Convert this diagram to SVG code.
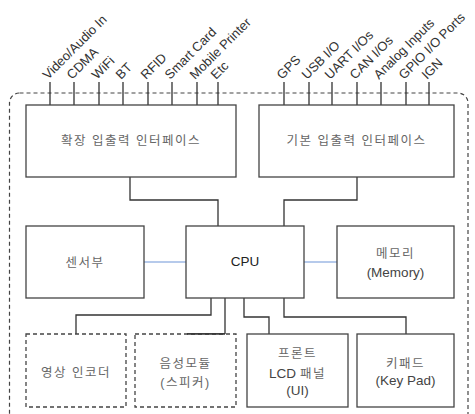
<svg xmlns="http://www.w3.org/2000/svg" width="475" height="414" viewBox="0 0 475 414">
<style>
.box{fill:#fff;stroke:#444;stroke-width:1.3}
.dbox{fill:#fff;stroke:#444;stroke-width:1.3;stroke-dasharray:4 3}
.ln{fill:none;stroke:#333;stroke-width:1.3}
.bl{fill:none;stroke:#6f95d8;stroke-width:1.2}
.lbl{font-family:"Liberation Sans",Arial,sans-serif;font-size:13px;fill:#333}
.kt{font-family:"Liberation Sans","Noto Sans CJK KR",sans-serif;font-size:12.5px;fill:#666;text-anchor:middle;letter-spacing:1.5px}
.et{font-family:"Liberation Sans","Noto Sans CJK KR",sans-serif;font-size:13.5px;fill:#444;text-anchor:middle}
</style>
<rect x="9.5" y="93" width="458.5" height="340" rx="10" fill="none" stroke="#444" stroke-width="1.2" stroke-dasharray="4 3"/>
<g id="connectors">
<path class="ln" d="M50,82V105M74,82V105M99,82V105M123,82V105M148,82V105M172,82V105M197,82V105M218,82V105"/>
<path class="ln" d="M284,82V105M309,82V105M332,82V105M357,82V105M381,82V105M406,82V105M429,82V105"/>
<path class="ln" d="M130,177V200H218V226"/>
<path class="ln" d="M357,177V200H284V226"/>
<path class="bl" d="M144,262H186M304,262H337"/>
<path class="ln" d="M211,298V315H76V334"/>
<path class="ln" d="M225,298V334H187"/>
<path class="ln" d="M244,298V317H269V334"/>
<path class="ln" d="M284,298V317H406V334"/>
</g>
<g id="labels-left" class="lbl">
<text transform="translate(48,80) rotate(-45)">Video/Audio In</text>
<text transform="translate(72,80) rotate(-45)">CDMA</text>
<text transform="translate(97,80) rotate(-45)">WiFi</text>
<text transform="translate(121,80) rotate(-45)">BT</text>
<text transform="translate(146,80) rotate(-45)">RFID</text>
<text transform="translate(170,80) rotate(-45)">Smart Card</text>
<text transform="translate(195,80) rotate(-45)">Mobile Printer</text>
<text transform="translate(216,80) rotate(-45)">Etc</text>
</g>
<g id="labels-right" class="lbl">
<text transform="translate(282,80) rotate(-45)">GPS</text>
<text transform="translate(307,80) rotate(-45)">USB I/O</text>
<text transform="translate(330,80) rotate(-45)">UART I/Os</text>
<text transform="translate(355,80) rotate(-45)">CAN I/Os</text>
<text transform="translate(379,80) rotate(-45)">Analog Inputs</text>
<text transform="translate(404,80) rotate(-45)">GPIO I/O Ports</text>
<text transform="translate(427,80) rotate(-45)">IGN</text>
</g>
<g id="ext-io">
<rect class="box" x="26" y="105" width="210" height="72"/>
<text class="kt" x="131" y="145">확장 입출력 인터페이스</text>
</g>
<g id="basic-io">
<rect class="box" x="259" y="105" width="195" height="72"/>
<text class="kt" x="356.5" y="145">기본 입출력 인터페이스</text>
</g>
<g id="sensor">
<rect class="box" x="26" y="226" width="118" height="72"/>
<text class="kt" x="85" y="267">센서부</text>
</g>
<g id="cpu">
<rect class="box" x="186" y="226" width="118" height="72"/>
<text class="et" x="245" y="266" style="fill:#222">CPU</text>
</g>
<g id="memory">
<rect class="box" x="337" y="226" width="117" height="72"/>
<text class="kt" x="395.5" y="258">메모리</text>
<text class="et" x="395.5" y="277">(Memory)</text>
</g>
<g id="video-encoder">
<rect class="dbox" x="26" y="334" width="100" height="73"/>
<text class="kt" x="76" y="377">영상 인코더</text>
</g>
<g id="audio">
<rect class="dbox" x="135" y="334" width="101" height="73"/>
<text class="kt" x="185.5" y="368">음성모듈</text>
<text class="kt" x="185.5" y="387">(스피커)</text>
</g>
<path class="ln" d="M187,334H225"/>
<g id="lcd">
<rect class="box" x="247" y="334" width="101" height="73"/>
<text class="kt" x="297.5" y="358">프론트</text>
<text class="et" x="297.5" y="378">LCD <tspan style="fill:#666;font-size:12.5px;letter-spacing:1.5px">패널</tspan></text>
<text class="et" x="297.5" y="395">(UI)</text>
</g>
<g id="keypad">
<rect class="box" x="357" y="334" width="97" height="73"/>
<text class="kt" x="405.5" y="368">키패드</text>
<text class="et" x="405.5" y="385">(Key Pad)</text>
</g>
</svg>
